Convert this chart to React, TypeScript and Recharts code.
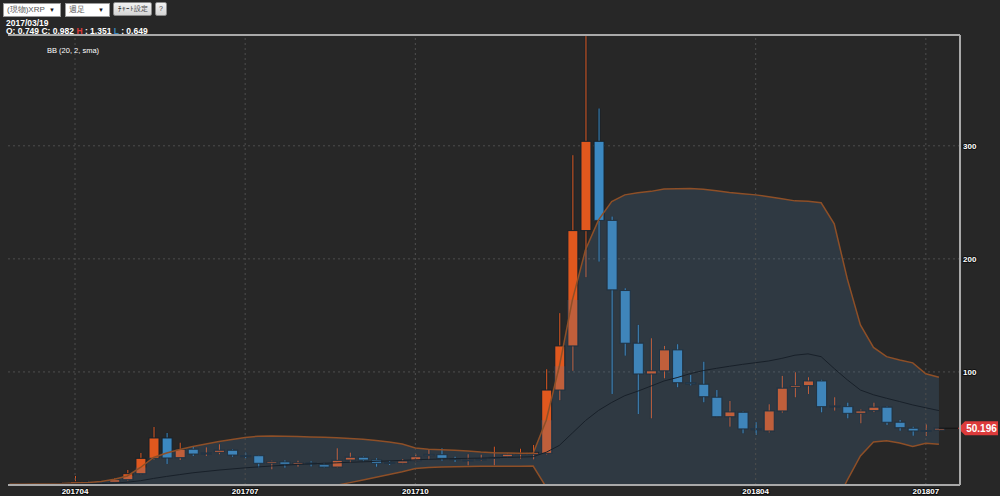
import React from 'react';
import {
  Area,
  Bar,
  CartesianGrid,
  ComposedChart,
  Line,
  ReferenceLine,
  XAxis,
  YAxis,
} from 'recharts';

// weekly XRP candles, first entry is 5 weeks before 201704
const firstWeek = -5;

const opens = [
  0.6, 0.66, 0.7, 0.749, 0.9, 1.5, 2.9, 2.6, 2.4, 4.7, 10, 23.6, 41.6, 24.2, 31.6, 27.6, 28.9, 30.7,
  26.0, 25.9, 19.2, 20.4, 18.3, 19.5, 18.0, 15.9, 22.1, 24.5, 22.1, 19.9, 19.2, 21.5, 26.0, 26.8,
  23.4, 21.8, 22.7, 23.9, 25.0, 27.8, 27.2, 28.0, 84, 123, 225, 304, 234, 172, 125.4, 98.2, 101,
  119.5, 90.5, 89.1, 77.6, 60.4, 64.3, 49.8, 47.8, 65.5, 86.3, 87.9, 92, 69.5, 69.3, 63.4, 65.8,
  68.8, 55.5, 50.2, 47.8, 48.6,
];
const highs = [
  0.72, 0.75, 0.8, 1.351, 1.9, 8.0, 3.6, 3.1, 5.9, 13.3, 28.3, 51.3, 46, 37.4, 33.9, 33.3, 36, 31.5,
  28.6, 26.5, 21.5, 21.8, 21.5, 21, 19.5, 32.5, 28.6, 25.2, 23.6, 21.2, 23, 27.2, 31.6, 32.5, 25,
  27.2, 26.8, 33.9, 28, 32.1, 35.4, 102.4, 152, 291.7, 397, 333, 237.4, 174, 141.6, 129.8, 123,
  124.5, 97.3, 109, 84, 74.3, 65, 55.5, 71.4, 96.5, 99.7, 95.3, 93, 77.6, 72.8, 66.8, 72.8, 69.5,
  57.5, 51.5, 53.7, 50.5,
];
const lows = [
  0.55, 0.6, 0.62, 0.649, 0.8, 1.3, 2.2, 2.3, 2.3, 3.8, 9.5, 22.5, 18.6, 22.1, 25.7, 25.7, 27.2, 25,
  23.6, 15.6, 13.9, 15.3, 16.2, 16.5, 15.3, 15.3, 19.7, 21, 16.2, 17.7, 18.5, 21, 22.7, 21.5, 20.4,
  17.4, 21.5, 17.4, 24, 23.3, 22.7, 27, 75, 101, 183.8, 197.6, 80.5, 114.4, 62.8, 59, 94.4, 86.5,
  88.2, 73.2, 60, 51.6, 45.7, 44.2, 46.5, 64, 77.6, 80.5, 64.3, 65.8, 59, 54.6, 64.5, 53.1, 48,
  43.6, 43.4, 48.3,
];
const closes = [
  0.66, 0.7, 0.68, 0.982, 1.5, 2.9, 2.6, 2.5, 4.7, 10, 23.6, 41.6, 23.9, 31.6, 27.4, 28.3, 30.7,
  26.5, 25.6, 19.2, 20.6, 18.3, 19.7, 19.0, 15.9, 21.8, 24.5, 22.1, 19.2, 19.5, 21.2, 25, 27, 23.6,
  22.8, 22.3, 23.2, 24.4, 27.2, 28.2, 28.9, 84, 123, 225, 304, 234, 172.6, 125.4, 98.2, 101, 119.5,
  90.5, 89.5, 78.1, 60.4, 64.6, 49.6, 48.9, 65.5, 85.6, 87.8, 92, 69.3, 70, 63.4, 65.5, 68.8, 55.5,
  50.7, 47.8, 48.2, 50.196,
];

// Bollinger band (20, 2, sma)
const bbUpper = [
  0.9, 0.9, 1.0, 1.1, 1.3, 1.8, 2.2, 3.1, 5.0, 8.0, 15.5, 24.3, 28.3, 31.4, 34, 36.3, 38.5, 40.3, 42,
  43.2, 43.4, 43.2, 42.8, 42.5, 42.2, 41.8, 41.2, 40.4, 39.4, 38, 36.3, 32.7, 31.6, 31.2, 30.7,
  30.1, 29.2, 28.6, 28.3, 28, 28, 57.3, 105, 163.7, 208, 234.5, 250.7, 256.6, 258.4, 259.7, 261.8,
  262, 262.2, 261.5, 260.2, 258.8, 257.7, 256.6, 254.9, 253.1, 251.3, 250.9, 249.6, 231, 182.3,
  141.6, 121.7, 113.5, 110.6, 108, 98.4, 95.3,
];
const bbMiddle = [
  0.7, 0.7, 0.7, 0.72, 0.78, 0.9, 1.05, 1.3, 1.7, 2.5, 3.8, 5.8, 7.6, 9.2, 10.8, 12, 13.2, 14.2,
  15.2, 16, 16.8, 17.5, 18.2, 18.7, 19.2, 19.6, 20.1, 20.5, 20.9, 21.3, 21.8, 22.3, 22.7, 23, 23.3,
  23.6, 23.8, 24.1, 24.4, 24.7, 25, 29, 35, 46, 57, 66, 73, 79, 83, 87.5, 92, 95, 98.5, 101.2,
  103.2, 105, 106.7, 108.2, 109.7, 112, 114.8, 116, 113.5, 103, 93, 84, 79.8, 76.7, 73.8, 70.8,
  68.3, 65.8,
];
const bbLower = [
  0.5, 0.5, 0.4, 0.35, 0.25, 0, -0.1, -0.5, -1.9, -3, -7.9, -13.3, -13.3, -13, -12.4, -12.3,
  -12.1, -11.9, -11.6, -10.5, -9.5, -8, -6.4, -5.1, -2.7, -0.3, 2.1, 4.5, 6.9, 9.3, 11.7, 14.6,
  15.5, 15.9, 16.1, 16.3, 16.5, 16.5, 16.5, 16.6, 16.7, -1.9, -35, -72, -94, -102, -105, -100,
  -92, -85, -78, -72, -65, -59, -54, -49, -45, -41, -36, -29, -21, -19, -23, -20, 4.4, 25.7, 38,
  39.1, 37.2, 34.1, 36.9, 36.1,
];

const xTicks = [0, 13, 26, 52, 65];
const xTickLabels = ['201704', '201707', '201710', '201804', '201807'];
const yTicks = [100, 200, 300];
const lastPrice = 50.196;

const xMin = -5.12;
const xMax = 67.61;
const yMax = 398;

const UP = '#e0581e';
const DOWN = '#3b88c1';
const EDGE = '#16212a';
const BAND = '#4f7ca6';
const BAND_OPACITY = 0.22;
const GRID = '#4e4e4e';
const FONT = '"Liberation Sans", Arial, sans-serif';

const data = opens.map((o, k) => ({
  w: firstWeek + k,
  o,
  h: highs[k],
  l: lows[k],
  c: closes[k],
  up: bbUpper[k],
  mid: bbMiddle[k],
  lo: bbLower[k],
}));

// overlap of two vertical ranges, or null
function overlap(a1: number, a2: number, b1: number, b2: number) {
  const s = Math.max(a1, b1);
  const e = Math.min(a2, b2);
  return e > s ? [s, e] : null;
}

function Candle(props: any) {
  const { x, payload } = props;
  let { y, width, height } = props;
  if (x == null || !payload) return null;
  if (height < 0) {
    y += height;
    height = -height;
  }
  const { o, h, l, c, up, lo } = payload;
  const k = height / (h - l || 1);
  const yO = y + (h - o) * k;
  const yC = y + (h - c) * k;
  const top = Math.min(yO, yC);
  const bh = Math.max(Math.abs(yO - yC), 1);
  const color = c >= o ? UP : DOWN;
  const cx = x + width / 2;

  // the band is painted over the candles in the original: shade the painted parts inside it
  const bTop = y + (h - up) * k;
  const bBot = y + (h - lo) * k;
  const shades: any[] = [];
  const wickA = overlap(y, top - 0.5, bTop, bBot);
  const wickB = overlap(top + bh + 0.5, y + height, bTop, bBot);
  const body = overlap(top - 0.5, top + bh + 0.5, bTop, bBot);
  if (wickA) shades.push([cx - 1.5, wickA[0], 3, wickA[1] - wickA[0]]);
  if (wickB) shades.push([cx - 1.5, wickB[0], 3, wickB[1] - wickB[0]]);
  if (body) shades.push([x - 0.5, body[0], width + 1, body[1] - body[0]]);

  return (
    <g>
      <rect x={cx - 1.5} y={y} width={3} height={height} fill={EDGE} opacity={0.7} />
      <rect x={cx - 0.5} y={y} width={1} height={height} fill={color} />
      <rect x={x} y={top} width={width} height={bh} fill={color} stroke={EDGE} strokeWidth={1} />
      {shades.map((s, n) => (
        <rect key={n} x={s[0]} y={s[1]} width={s[2]} height={s[3]} fill={BAND} fillOpacity={BAND_OPACITY} />
      ))}
    </g>
  );
}

function XTick({ x, y, payload }: any) {
  const label = xTickLabels[xTicks.indexOf(payload.value)];
  return (
    <text
      x={x}
      y={y + 9}
      textAnchor="middle"
      fontSize={8}
      fontWeight="bold"
      fontFamily={FONT}
      fill="#fff"
      stroke="#111"
      strokeWidth={2}
      paintOrder="stroke"
    >
      {label}
    </text>
  );
}

function YTick({ x, y, payload }: any) {
  return (
    <text
      x={x + 3}
      y={y + 3}
      textAnchor="start"
      fontSize={8}
      fontWeight="bold"
      fontFamily={FONT}
      fill="#fff"
      stroke="#111"
      strokeWidth={2}
      paintOrder="stroke"
    >
      {payload.value}
    </text>
  );
}

function PriceTag({ viewBox }: any) {
  if (!viewBox) return null;
  const xe = viewBox.x + viewBox.width;
  const yy = viewBox.y;
  return (
    <g>
      <polygon
        points={`${xe - 2},${yy} ${xe + 5},${yy - 7} ${xe + 38},${yy - 7} ${xe + 38},${yy + 7} ${xe + 5},${yy + 7}`}
        fill="#dc3b3b"
      />
      <text
        x={xe + 21.5}
        y={yy + 3.5}
        textAnchor="middle"
        fontSize={10}
        fontWeight="bold"
        fontFamily={FONT}
        fill="#fff"
      >
        {lastPrice.toFixed(3)}
      </text>
    </g>
  );
}

const selectBox: React.CSSProperties = {
  position: 'absolute',
  top: 3,
  height: 14,
  boxSizing: 'border-box',
  background: '#fff',
  border: '1px solid #9a9a9a',
  fontSize: 8,
  color: '#555',
  lineHeight: '12px',
  paddingLeft: 3,
};

const button: React.CSSProperties = {
  position: 'absolute',
  top: 2,
  height: 14,
  boxSizing: 'border-box',
  background: 'linear-gradient(#f2f2f2, #d4d4d4)',
  border: '1px solid #8a8a8a',
  borderRadius: 2,
  fontSize: 7,
  color: '#444',
  lineHeight: '12px',
  textAlign: 'center',
};

export default function App() {
  return (
    <div
      style={{
        position: 'absolute',
        left: 0,
        top: 0,
        width: 1000,
        height: 496,
        background: '#272727',
        overflow: 'hidden',
        fontFamily: FONT,
      }}
    >
      <ComposedChart
        width={1000}
        height={496}
        data={data}
        margin={{ top: 35, right: 0, left: 8, bottom: 0 }}
      >
        <CartesianGrid stroke={GRID} strokeDasharray="2 3" vertical={false} />
        {xTicks.map((t) => (
          <ReferenceLine key={t} x={t} stroke={GRID} strokeDasharray="2 3" />
        ))}
        <XAxis
          dataKey="w"
          type="number"
          domain={[xMin, xMax]}
          allowDataOverflow
          ticks={xTicks}
          tick={<XTick />}
          tickLine={false}
          axisLine={false}
          tickSize={0}
          tickMargin={0}
          height={11}
          interval={0}
        />
        <YAxis
          orientation="right"
          type="number"
          domain={[0, yMax]}
          allowDataOverflow
          ticks={yTicks}
          tick={<YTick />}
          tickLine={false}
          axisLine={false}
          tickSize={0}
          tickMargin={0}
          width={40}
        />
        <Area
          type="linear"
          dataKey={(d: any) => [d.lo, d.up]}
          fill={BAND}
          fillOpacity={BAND_OPACITY}
          stroke="none"
          isAnimationActive={false}
        />
        <Bar
          dataKey={(d: any) => [d.l, d.h]}
          barSize={10}
          shape={<Candle />}
          isAnimationActive={false}
        />
        <Line type="linear" dataKey="up" stroke="#8e4f27" strokeWidth={1.5} dot={false} isAnimationActive={false} />
        <Line type="linear" dataKey="lo" stroke="#8e4f27" strokeWidth={1.5} dot={false} isAnimationActive={false} />
        <Line type="linear" dataKey="mid" stroke="#182029" strokeWidth={1} dot={false} isAnimationActive={false} />
        <ReferenceLine
          segment={[
            { x: 66, y: lastPrice },
            { x: xMax, y: lastPrice },
          ]}
          stroke="#111"
          strokeWidth={1}
        />
        <ReferenceLine y={lastPrice} stroke="none" label={<PriceTag />} />
        <ReferenceLine y={yMax} stroke="#a9a9a9" strokeWidth={2} />
        <ReferenceLine y={0} stroke="#a9a9a9" strokeWidth={2} />
        <ReferenceLine x={xMax} stroke="#a9a9a9" strokeWidth={2} />
      </ComposedChart>

      <div style={{ ...selectBox, left: 3, width: 58 }}>
        (現物)XRP
        <span style={{ position: 'absolute', right: 5, top: 0, fontSize: 6, color: '#111' }}>▼</span>
      </div>
      <div style={{ ...selectBox, left: 65, width: 45 }}>
        週足
        <span style={{ position: 'absolute', right: 5, top: 0, fontSize: 6, color: '#111' }}>▼</span>
      </div>
      <div style={{ ...button, left: 113, width: 39 }}>ﾁｬｰﾄ設定</div>
      <div style={{ ...button, left: 155, width: 12 }}>?</div>

      <div
        style={{
          position: 'absolute',
          left: 6,
          top: 19,
          fontSize: 8.5,
          fontWeight: 'bold',
          color: '#fff',
          lineHeight: '9px',
        }}
      >
        2017/03/19
      </div>
      <div
        style={{
          position: 'absolute',
          left: 6,
          top: 27,
          fontSize: 8.5,
          fontWeight: 'bold',
          color: '#fff',
          lineHeight: '9px',
          whiteSpace: 'nowrap',
        }}
      >
        O: 0.749 C: 0.982 <span style={{ color: '#e03a3a' }}>H</span> : 1.351{' '}
        <span style={{ color: '#3b88c1' }}>L</span> : 0.649
      </div>
      <div
        style={{
          position: 'absolute',
          left: 47,
          top: 47,
          fontSize: 7.5,
          color: '#fff',
          lineHeight: '8px',
          whiteSpace: 'nowrap',
        }}
      >
        BB (20, 2, sma)
      </div>
    </div>
  );
}
